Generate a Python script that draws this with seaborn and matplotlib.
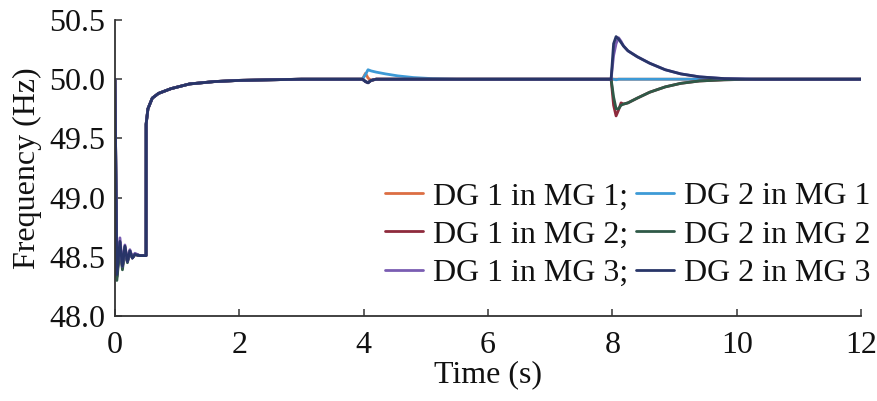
import pandas as pd
import numpy as np
import matplotlib
matplotlib.use('Agg')
import matplotlib.pyplot as plt
import seaborn as sns

# time grid (s)
t = [0, 0.03, 0.08, 0.12, 0.16, 0.2, 0.24, 0.28, 0.32, 0.4,
     0.5, 0.501, 0.53, 0.6, 0.7, 0.9, 1.2, 1.6, 2.0, 3.0,
     3.98, 4.03, 4.07, 4.12, 4.2, 4.35, 4.55, 4.8, 5.1, 5.5,
     7.98, 8.02, 8.06, 8.1, 8.14, 8.18, 8.25, 8.4, 8.6, 8.85,
     9.1, 9.4, 9.8, 10.3, 12.0]

# frequencies (Hz)
dg1_mg1 = [50.0, 48.34, 48.62, 48.42, 48.58, 48.46, 48.55, 48.49, 48.52, 48.51,
           48.51, 49.62, 49.75, 49.84, 49.88, 49.92, 49.96, 49.98, 49.99, 50.0,
           50.0, 50.05, 50.01, 49.99, 50.0, 50.0, 50.0, 50.0, 50.0, 50.0,
           50.0, 50.0, 50.0, 50.0, 50.0, 50.0, 50.0, 50.0, 50.0, 50.0,
           50.0, 50.0, 50.0, 50.0, 50.0]
dg2_mg1 = [50.0, 48.33, 48.62, 48.42, 48.58, 48.46, 48.55, 48.49, 48.52, 48.51,
           48.51, 49.62, 49.75, 49.84, 49.88, 49.92, 49.96, 49.98, 49.99, 50.0,
           50.0, 50.04, 50.08, 50.07, 50.06, 50.045, 50.028, 50.014, 50.005, 50.0,
           50.0, 50.0, 49.995, 50.0, 50.0, 50.0, 50.0, 50.0, 50.0, 50.0,
           50.0, 50.0, 50.0, 50.0, 50.0]
dg1_mg2 = [50.0, 48.33, 48.62, 48.41, 48.58, 48.46, 48.55, 48.49, 48.52, 48.51,
           48.51, 49.62, 49.75, 49.84, 49.88, 49.92, 49.96, 49.98, 49.99, 50.0,
           50.0, 49.98, 49.97, 49.99, 50.0, 50.0, 50.0, 50.0, 50.0, 50.0,
           50.0, 49.78, 49.69, 49.74, 49.80, 49.79, 49.80, 49.84, 49.89, 49.935,
           49.965, 49.985, 49.995, 50.0, 50.0]
dg2_mg2 = [50.0, 48.30, 48.58, 48.39, 48.56, 48.45, 48.54, 48.49, 48.52, 48.51,
           48.51, 49.62, 49.75, 49.84, 49.88, 49.92, 49.96, 49.98, 49.99, 50.0,
           50.0, 49.98, 49.97, 49.99, 50.0, 50.0, 50.0, 50.0, 50.0, 50.0,
           50.0, 49.85, 49.75, 49.75, 49.78, 49.79, 49.80, 49.84, 49.89, 49.935,
           49.965, 49.985, 49.995, 50.0, 50.0]
dg1_mg3 = [50.0, 48.38, 48.66, 48.42, 48.60, 48.46, 48.56, 48.49, 48.53, 48.51,
           48.51, 49.62, 49.75, 49.84, 49.88, 49.92, 49.96, 49.98, 49.99, 50.0,
           50.0, 49.98, 49.97, 49.99, 50.0, 50.0, 50.0, 50.0, 50.0, 50.0,
           50.0, 50.20, 50.30, 50.35, 50.32, 50.28, 50.24, 50.19, 50.135, 50.08,
           50.045, 50.02, 50.005, 50.0, 50.0]
dg2_mg3 = [50.0, 48.35, 48.63, 48.42, 48.59, 48.46, 48.55, 48.49, 48.52, 48.51,
           48.51, 49.62, 49.75, 49.84, 49.88, 49.92, 49.96, 49.98, 49.99, 50.0,
           50.0, 49.98, 49.97, 49.99, 50.0, 50.0, 50.0, 50.0, 50.0, 50.0,
           50.0, 50.30, 50.36, 50.34, 50.31, 50.28, 50.24, 50.19, 50.135, 50.08,
           50.045, 50.02, 50.005, 50.0, 50.0]

labels = ['DG 1 in MG 1;', 'DG 2 in MG 1', 'DG 1 in MG 2;', 'DG 2 in MG 2',
          'DG 1 in MG 3;', 'DG 2 in MG 3']
colors = ['#dc6e43', '#3d9ad6', '#8e2a3c', '#2f5947', '#7a5db2', '#283568']
series = [dg1_mg1, dg2_mg1, dg1_mg2, dg2_mg2, dg1_mg3, dg2_mg3]

sns.set_style('ticks')
plt.rcParams['font.family'] = ['Liberation Serif', 'DejaVu Serif']
plt.rcParams['xtick.direction'] = 'in'
plt.rcParams['ytick.direction'] = 'in'

fig = plt.figure(figsize=(8.77, 4.01), dpi=100)
ax = fig.add_axes([0.1311, 0.212, 0.8507, 0.7381])

for lab, col, vals in zip(labels, colors, series):
    df = pd.DataFrame({'Time': t, 'Freq': vals})
    sns.lineplot(x='Time', y='Freq', data=df, color=col, linewidth=2.0,
                 estimator=None, sort=False, ax=ax, label=lab)

fs = 23
ax.set_xlim(0, 12)
ax.set_ylim(48.0, 50.5)
ax.set_xticks([0, 2, 4, 6, 8, 10, 12])
ax.set_yticks([48.0, 48.5, 49.0, 49.5, 50.0, 50.5])
ax.set_yticklabels(['%.1f' % v for v in [48.0, 48.5, 49.0, 49.5, 50.0, 50.5]])
ax.tick_params(labelsize=fs, length=5, width=1.2, colors='#444444', labelcolor='#111111')
ax.tick_params(axis='x', pad=11)
ax.tick_params(axis='y', pad=7)
for s in ['left', 'bottom']:
    ax.spines[s].set_linewidth(1.3)
    ax.spines[s].set_color('#333333')
sns.despine(ax=ax)
ax.set_xlabel('Time (s)', fontsize=fs, labelpad=0, color='#111111')
ax.set_ylabel('Frequency (Hz)', fontsize=fs, labelpad=5, color='#111111')

h, l = ax.get_legend_handles_labels()
order = [0, 2, 4, 1, 3, 5]
ax.legend([h[i] for i in order], [l[i] for i in order], ncol=2, frameon=False,
          fontsize=fs, loc='lower right', bbox_to_anchor=(1.038, 0.03),
          handlelength=1.2, handletextpad=0.3, columnspacing=0.25,
          labelspacing=0.28, borderaxespad=0.2, labelcolor='#111111')

fig.savefig('out.png', dpi=100)
